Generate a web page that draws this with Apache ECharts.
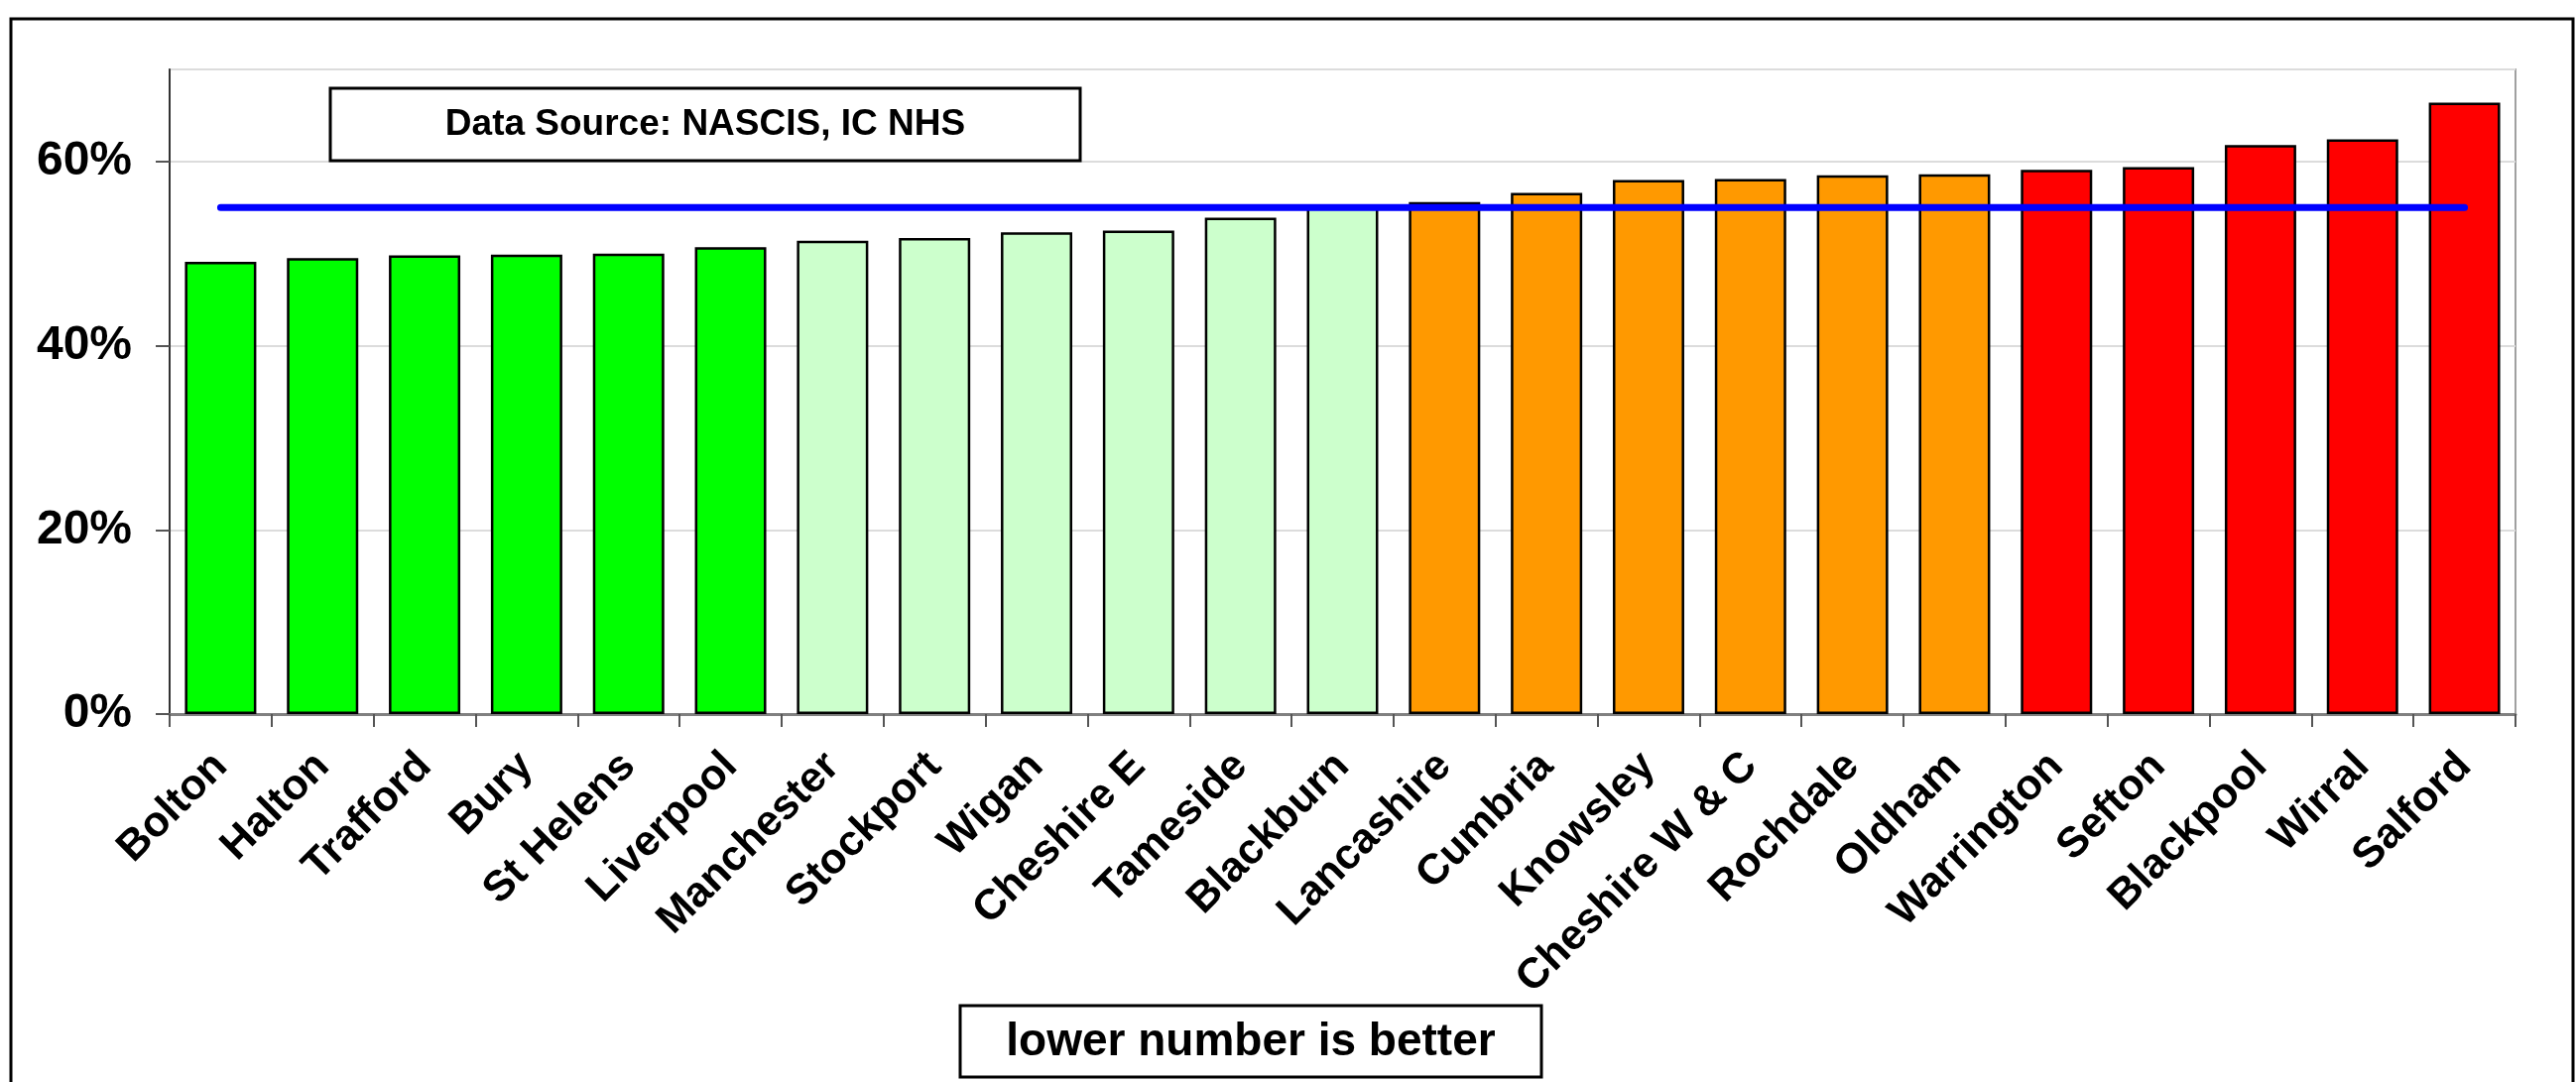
<!DOCTYPE html>
<html>
<head>
<meta charset="utf-8">
<script src="https://cdn.jsdelivr.net/npm/echarts@6/dist/echarts.min.js"></script>
<style>
html,body{margin:0;padding:0;background:#fff;}
#chart{width:2597px;height:1091px;}
</style>
</head>
<body>
<div id="chart"></div>
<script>
const categories = ['Bolton','Halton','Trafford','Bury','St Helens','Liverpool','Manchester','Stockport','Wigan','Cheshire E','Tameside','Blackburn','Lancashire','Cumbria','Knowsley','Cheshire W & C','Rochdale','Oldham','Warrington','Sefton','Blackpool','Wirral','Salford'];
const values = [49.1,49.5,49.8,49.9,50.0,50.7,51.4,51.7,52.3,52.5,53.9,55.1,55.6,56.6,58.0,58.1,58.5,58.6,59.1,59.4,61.8,62.4,66.4];
const bands = ['top','top','top','top','top','top','upper','upper','upper','upper','upper','upper','lower','lower','lower','lower','lower','lower','bottom','bottom','bottom','bottom','bottom'];
const average = [55,55,55,55,55,55,55,55,55,55,55,55,55,55,55,55,55,55,55,55,55,55,55];
const yTicks = [0,20,40,60];

const bandColors = {top:'#00ff00', upper:'#ccffcc', lower:'#ff9900', bottom:'#ff0000'};
const font = '"Liberation Sans", Arial, sans-serif';

const chart = echarts.init(document.getElementById('chart'));
chart.setOption({
  animation: false,
  backgroundColor: '#ffffff',
  grid: {left: 171, top: 70, right: 61, bottom: 371, show: true, borderColor: '#a0a0a0', borderWidth: 2, containLabel: false},
  xAxis: {
    type: 'category',
    data: categories,
    boundaryGap: true,
    axisLine: {lineStyle: {color: '#808080', width: 3}},
    axisTick: {show: true, inside: false, length: 13, alignWithLabel: false, lineStyle: {color: '#555', width: 2}},
    axisLabel: {rotate: 45, interval: 0, margin: 46, fontFamily: font, fontWeight: 'bold', fontSize: 43, color: '#000'}
  },
  yAxis: {
    type: 'value',
    min: 0, max: 70, interval: 20,
    axisLine: {show: true, lineStyle: {color: '#333', width: 2}},
    axisTick: {show: true, length: 14, lineStyle: {color: '#555', width: 2}},
    axisLabel: {
      margin: 38, fontFamily: font, fontWeight: 'bold', fontSize: 48, color: '#000',
      showMaxLabel: false,
      formatter: v => yTicks.includes(v) ? v + '%' : ''
    },
    splitLine: {show: true, lineStyle: {color: '#dcdcdc', width: 2}}
  },
  series: [
    {
      type: 'bar',
      barCategoryGap: '30%',
      data: values.map((v, i) => ({value: v, itemStyle: {color: bandColors[bands[i]]}})),
      itemStyle: {borderColor: '#000', borderWidth: 2.5},
      z: 2
    },
    {
      type: 'line',
      data: average,
      symbol: 'none',
      lineStyle: {color: '#0000ff', width: 7, cap: 'round'},
      z: 5
    }
  ],
  graphic: [
    {type: 'rect', shape: {x: 11, y: 19, width: 2583, height: 1100}, style: {fill: 'none', stroke: '#000', lineWidth: 3}, silent: true, z: 0},
    {type: 'rect', shape: {x: 333, y: 89, width: 756, height: 73}, style: {fill: '#fff', stroke: '#000', lineWidth: 3}, z: 10},
    {type: 'text', x: 711, y: 126, style: {text: 'Data Source: NASCIS, IC NHS', font: 'bold 37px ' + font, fill: '#000', textAlign: 'center', textVerticalAlign: 'middle'}, z: 11},
    {type: 'rect', shape: {x: 968, y: 1014, width: 586, height: 72}, style: {fill: '#fff', stroke: '#000', lineWidth: 3}, z: 10},
    {type: 'text', x: 1261, y: 1051, style: {text: 'lower number is better', font: 'bold 46px ' + font, fill: '#000', textAlign: 'center', textVerticalAlign: 'middle'}, z: 11}
  ]
});
</script>
</body>
</html>
